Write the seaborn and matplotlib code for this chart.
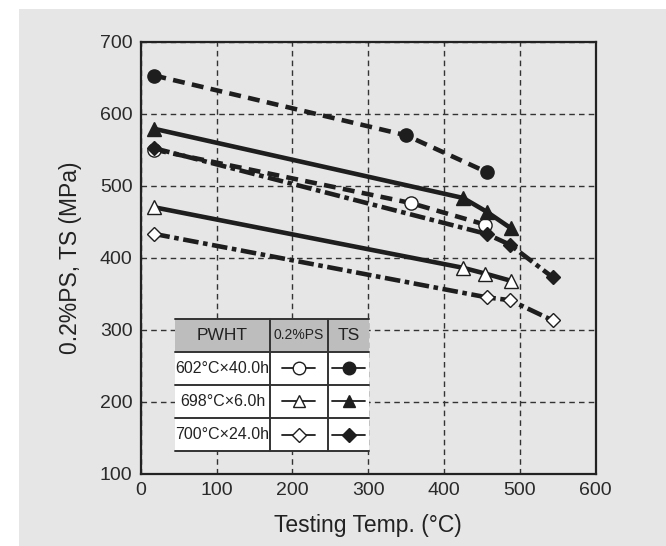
import matplotlib
matplotlib.use("Agg")
import matplotlib.pyplot as plt
import seaborn as sns
from matplotlib.patches import Rectangle
from matplotlib.lines import Line2D

# ---- data ----
ts602_t = [18, 350, 456]
ts602_v = [653, 570, 519]
ps602_t = [18, 356, 454]
ps602_v = [550, 476, 446]
ts698_t = [18, 425, 456, 488]
ts698_v = [579, 483, 464, 441]
ps698_t = [18, 425, 454, 488]
ps698_v = [470, 386, 378, 368]
ts700_t = [18, 456, 487, 543]
ts700_v = [552, 433, 418, 373]
ps700_t = [18, 456, 487, 543]
ps700_v = [433, 345, 341, 313]

x_ticks = [0, 100, 200, 300, 400, 500, 600]
y_ticks = [100, 200, 300, 400, 500, 600, 700]
pwht_labels = ["602°C×40.0h", "698°C×6.0h", "700°C×24.0h"]
table_header = ["PWHT", "0.2%PS", "TS"]

sns.set_theme(style="white")
plt.rcParams['font.family'] = ['Liberation Sans', 'DejaVu Sans']

BG = "#e6e6e6"
LC = "#1e1e1e"
fig = plt.figure(figsize=(6.66, 5.46), dpi=100, facecolor="white")
fig.patches.append(Rectangle((19/666, 0), 1, 1 - 9/546, transform=fig.transFigure,
                             facecolor=BG, edgecolor="none", zorder=-10))
ax = fig.add_axes([0.2113, 0.1324, 0.6832, 0.7912])
ax.set_facecolor(BG)

dashed = (0, (2.6, 1.6))
dashdot = (0, (3.4, 1.0, 1.0, 1.0))
solid = "-"

# (t, v, linestyle, marker, face, size, zorder)
series = [
    (ps602_t, ps602_v, dashed, "o", "white", 9.5, 5),
    (ps698_t, ps698_v, solid, "^", "white", 9.5, 5),
    (ps700_t, ps700_v, dashdot, "D", "white", 7.5, 5),
    (ts602_t, ts602_v, dashed, "o", LC, 9.5, 6),
    (ts698_t, ts698_v, solid, "^", LC, 9.5, 6),
    (ts700_t, ts700_v, dashdot, "D", LC, 7.5, 7),
]
for t, v, ls, mk, fc, ms, z in series:
    sns.lineplot(x=t, y=v, ax=ax, color=LC, linestyle=ls, linewidth=3.3,
                 marker=mk, markersize=ms, markerfacecolor=fc,
                 markeredgecolor=LC, markeredgewidth=1.0, sort=False,
                 zorder=z, estimator=None)

ax.set_xlim(0, 600)
ax.set_ylim(100, 700)
ax.set_xticks(x_ticks)
ax.set_yticks(y_ticks)
ax.tick_params(axis="both", length=0, labelsize=14, colors="#2a2a2a", pad=6)
ax.grid(True, linestyle=(0, (4, 3)), color="#333333", linewidth=1.0)
for s in ax.spines.values():
    s.set_color("#222222")
    s.set_linewidth(1.6)
ax.set_xlabel("Testing Temp. (°C)", fontsize=16.5, color="#222222", labelpad=11)
ax.set_ylabel("0.2%PS, TS (MPa)", fontsize=16.5, color="#222222", labelpad=13)

# ---- table legend ----
tr = ax.transAxes
xs = [0.0754, 0.284, 0.411, 0.5024]
ys = [0.358, 0.2824, 0.206, 0.129, 0.0525]
ax.add_patch(Rectangle((xs[0], ys[1]), xs[3] - xs[0], ys[0] - ys[1], transform=tr,
                       facecolor="#bdbdbd", edgecolor="none", zorder=10))
ax.add_patch(Rectangle((xs[0], ys[4]), xs[3] - xs[0], ys[1] - ys[4], transform=tr,
                       facecolor="white", edgecolor="none", zorder=10))
for y in ys:
    ax.add_line(Line2D([xs[0], xs[3]], [y, y], transform=tr, color="#333333", lw=1.4, zorder=11))
for x in xs[1:3]:
    ax.add_line(Line2D([x, x], [ys[4], ys[0]], transform=tr, color="#333333", lw=1.4, zorder=11))

hdr_sizes = [12.5, 10, 12.5]
for j, h in enumerate(table_header):
    ax.text((xs[j] + xs[j + 1]) / 2, (ys[0] + ys[1]) / 2, h, transform=tr,
            ha="center", va="center", fontsize=hdr_sizes[j], color="#222222", zorder=12)
markers = ["o", "^", "D"]
msz = [9.5, 9.5, 7.5]
for r, lab in enumerate(pwht_labels):
    yc = (ys[r + 1] + ys[r + 2]) / 2
    ax.text((xs[0] + xs[1]) / 2, yc, lab, transform=tr, ha="center", va="center",
            fontsize=11.5, color="#222222", zorder=12)
    for c, fc in ((1, "white"), (2, LC)):
        xc = (xs[c] + xs[c + 1]) / 2
        ax.add_line(Line2D([xc - 0.036, xc + 0.036], [yc, yc], transform=tr, color=LC,
                           lw=1.3, zorder=12))
        ax.add_line(Line2D([xc], [yc], transform=tr, marker=markers[r], markersize=msz[r] * 0.95,
                           markerfacecolor=fc, markeredgecolor=LC, markeredgewidth=1.0,
                           linestyle="none", zorder=13))

fig.savefig("out.png", dpi=100, facecolor="white")
